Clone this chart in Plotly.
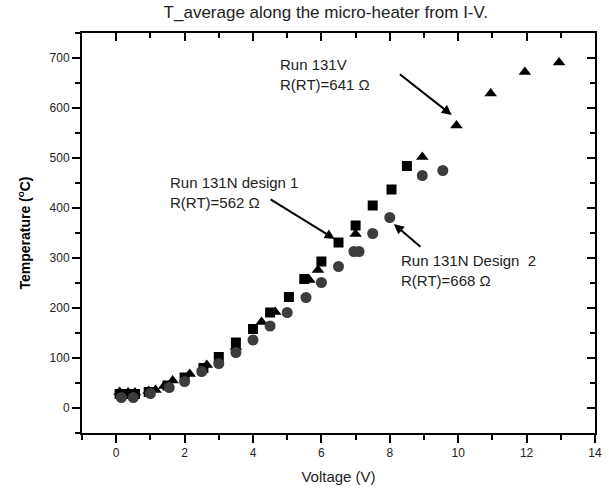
import plotly.graph_objects as go

# Run 131N design 1 (squares)
sq_v = [0.1, 0.35, 0.55, 0.95, 1.5, 2.0, 2.55, 3.0, 3.5, 4.0, 4.5, 5.05, 5.5, 6.0, 6.5, 7.0, 7.5, 8.05, 8.5]
sq_t = [28, 28, 28, 32, 45, 61, 80, 102, 131, 158, 191, 222, 258, 293, 331, 365, 405, 437, 484]

# Run 131N design 2 (circles)
ci_v = [0.15, 0.5, 1.0, 1.55, 2.0, 2.5, 3.0, 3.5, 4.0, 4.5, 5.0, 5.55, 6.0, 6.5, 6.95, 7.1, 7.5, 8.0, 8.95, 9.55]
ci_t = [21, 21, 29, 41, 53, 73, 89, 111, 136, 164, 191, 221, 251, 283, 313, 313, 349, 381, 465, 475]

# Run 131V (triangles)
tr_v = [0.1, 0.35, 0.55, 0.95, 1.15, 1.4, 1.65, 2.15, 2.65, 3.5, 4.25, 4.65, 5.65, 5.9, 7.0, 8.95, 9.95, 10.95, 11.95, 12.95]
tr_t = [32, 31, 31, 34, 36, 44, 55, 68, 86, 122, 172, 192, 256, 276, 348, 502, 565, 629, 672, 691]

x_ticks = [0, 2, 4, 6, 8, 10, 12, 14]
y_ticks = [0, 100, 200, 300, 400, 500, 600, 700]

FONT = "Liberation Sans, Arial, sans-serif"
TXT = "#222222"

fig = go.Figure()
fig.add_trace(go.Scatter(x=tr_v, y=tr_t, mode="markers", name="Run 131V",
                         marker=dict(symbol="triangle-up", size=11, color="black")))
fig.add_trace(go.Scatter(x=sq_v, y=sq_t, mode="markers", name="Run 131N design 1",
                         marker=dict(symbol="square", size=10, color="black")))
fig.add_trace(go.Scatter(x=ci_v, y=ci_t, mode="markers", name="Run 131N design 2",
                         marker=dict(symbol="circle", size=11, color="#3c3c3c")))
# invisible trace to activate mirror axes
fig.add_trace(go.Scatter(x=[0], y=[0], xaxis="x2", yaxis="y2", mode="markers",
                         marker=dict(opacity=0), hoverinfo="skip", showlegend=False))

axis_common = dict(showline=True, linewidth=2, linecolor="black", showgrid=False,
                   zeroline=False, tickcolor="black", tickwidth=2)

fig.update_layout(
    width=609, height=495,
    margin=dict(l=82, r=7, t=33, b=62),
    paper_bgcolor="white", plot_bgcolor="white",
    showlegend=False,
    font=dict(family=FONT, size=12, color=TXT),
    title=dict(text="T_average along the micro-heater from I-V.", x=0.535, xanchor="center",
               y=0.975, yanchor="middle", font=dict(size=17, color=TXT)),
    xaxis=dict(range=[-1, 14], tickvals=x_ticks, ticks="outside", ticklen=8,
               minor=dict(dtick=1, tick0=0, ticks="outside", ticklen=5, tickcolor="black", tickwidth=2),
               title=dict(text="Voltage (V)", font=dict(size=15, color=TXT), standoff=12),
               tickfont=dict(size=12, color=TXT), **axis_common),
    yaxis=dict(range=[-50, 750], tickvals=y_ticks, ticks="outside", ticklen=8,
               minor=dict(dtick=50, tick0=0, ticks="outside", ticklen=5, tickcolor="black", tickwidth=2),
               title=dict(text="<b>Temperature (<sup>o</sup>C)</b>", font=dict(size=14, color="black"), standoff=16),
               tickfont=dict(size=12, color=TXT), **axis_common),
    xaxis2=dict(overlaying="x", matches="x", side="top", tickvals=x_ticks, ticks="inside", ticklen=8,
                minor=dict(dtick=1, tick0=0, ticks="inside", ticklen=5, tickcolor="black", tickwidth=2),
                showticklabels=False, **axis_common),
    yaxis2=dict(overlaying="y", matches="y", side="right", tickvals=y_ticks, ticks="inside", ticklen=8,
                minor=dict(dtick=50, tick0=0, ticks="inside", ticklen=5, tickcolor="black", tickwidth=2),
                showticklabels=False, **axis_common),
)

# Labels
labels = [
    ("Run 131V<br>R(RT)=641 Ω", 4.73, 668),
    ("Run 131N design 1<br>R(RT)=562 Ω", 1.52, 432),
    ("Run 131N Design  2<br>R(RT)=668 Ω", 8.26, 276),
]
for text, lx, ly in labels:
    fig.add_annotation(x=lx, y=ly, text=text, showarrow=False, xanchor="left", yanchor="middle",
                       align="left", font=dict(size=15, color=TXT, family=FONT))

# Arrows: (tail_x, tail_y, head_x, head_y)
arrows = [
    (8.25, 670, 9.81, 586),
    (4.47, 419, 6.39, 338),
    (8.94, 320, 8.12, 368),
]
for tx, ty, hx, hy in arrows:
    fig.add_annotation(x=hx, y=hy, ax=tx, ay=ty, axref="x", ayref="y", xref="x", yref="y",
                       text="", showarrow=True, arrowhead=2, arrowsize=1, arrowwidth=2,
                       arrowcolor="black")

fig.write_html("out.html")
